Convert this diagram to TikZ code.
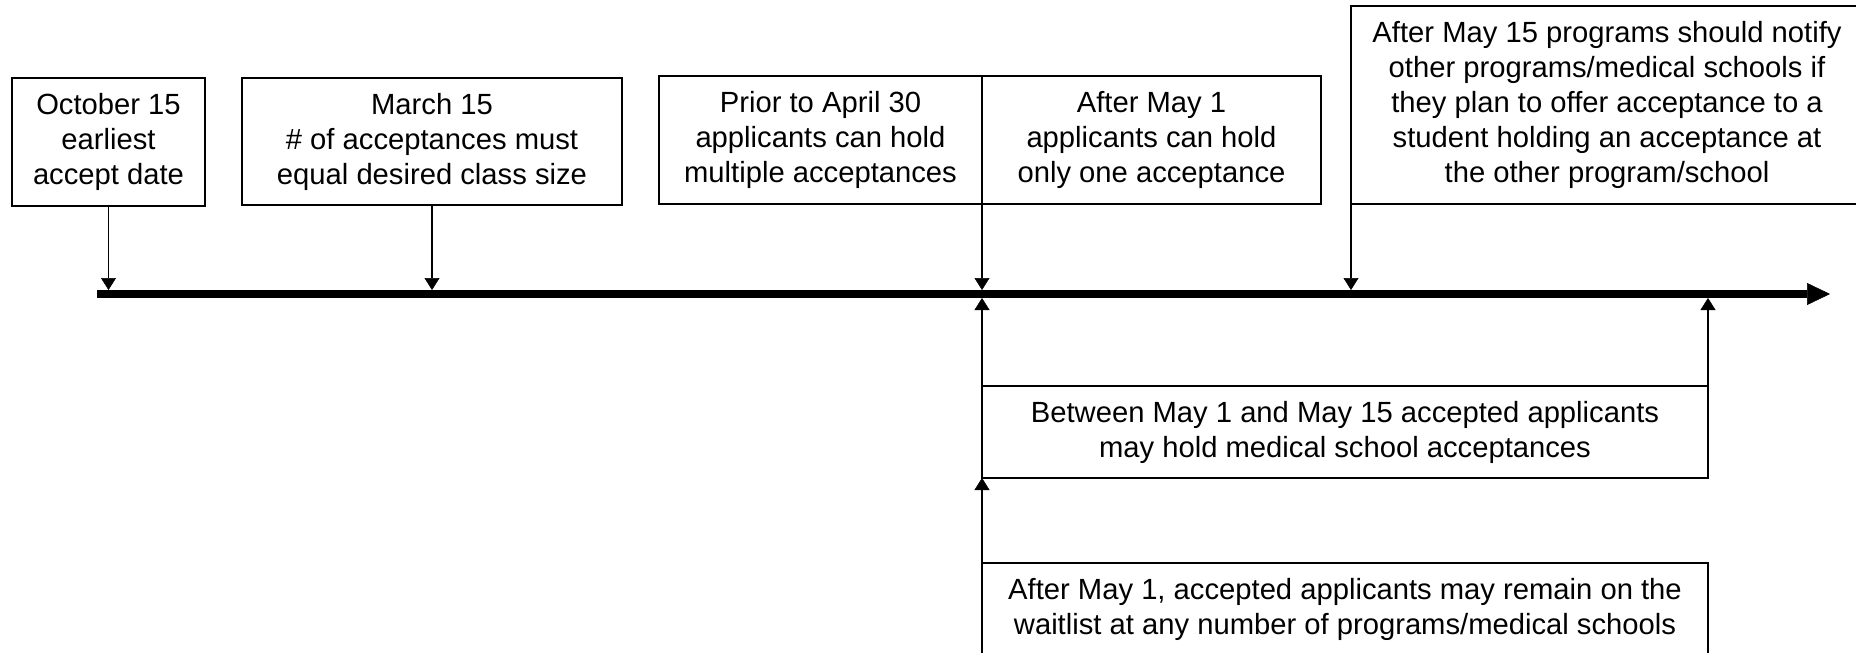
\documentclass[tikz,border=0pt]{standalone}
\usepackage{fontspec}
\setmainfont{Liberation Sans}
\usetikzlibrary{arrows.meta}
\begin{document}
\begin{tikzpicture}[x=1pt,y=-1pt,
  box/.style={draw, line width=1.6pt, align=center, inner sep=0pt, outer sep=0pt,
    font=\fontsize{29.2}{35}\selectfont},
  conn/.style={line width=1.8pt, -{Triangle[length=12pt,width=15pt,line width=0.5pt]}},
  tline/.style={line width=8pt, -{Triangle[length=23pt,width=22pt,line width=0.5pt]}}]
\useasboundingbox (0,0) rectangle (1856,653);
\clip (0,0) rectangle (1856,653);
\fill[white] (0,0) rectangle (1856,653);

\node[box, minimum width=193pt, minimum height=128pt] (oct) at (108.5,142)
  {October 15\\earliest\\accept date};
\node[box, minimum width=380pt, minimum height=127pt] (mar) at (432,141.5)
  {March 15\\\# of acceptances must\\equal desired class size};
\node[box, minimum width=323pt, minimum height=128pt] (prior) at (820.5,140)
  {Prior to April 30\\applicants can hold\\multiple acceptances};
\node[box, minimum width=339pt, minimum height=128pt] (may1) at (1151.5,140)
  {After May 1\\applicants can hold\\only one acceptance};
\node[box, minimum width=512pt, minimum height=198pt] (may15) at (1607,105)
  {After May 15 programs should notify\\other programs/medical schools if\\they plan to offer acceptance to a\\student holding an acceptance at\\the other program/school};
\node[box, minimum width=726pt, minimum height=92pt] (betw) at (1345,432)
  {Between May 1 and May 15 accepted applicants\\may hold medical school acceptances};
\node[box, minimum width=726pt, minimum height=92pt] (wait) at (1345,609)
  {After May 1, accepted applicants may remain on the\\waitlist at any number of programs/medical schools};

\coordinate (tS) at (97,294);
\coordinate (tE) at (1830,294);
\coordinate (tT) at (0,290);
\coordinate (tB) at (0,298);
\draw[tline] (tS) -- (tE);

\draw[conn] (oct.south) -- (oct.south |- tT);
\draw[conn] (mar.south) -- (mar.south |- tT);
\draw[conn] (may1.south west) -- (may1.south west |- tT);
\draw[conn] (may15.south west) -- (may15.south west |- tT);
\draw[conn] (betw.north west) -- (betw.north west |- tB);
\draw[conn] (betw.north east) -- (betw.north east |- tB);
\draw[conn] (wait.north west) -- (betw.south west);
\end{tikzpicture}
\end{document}
